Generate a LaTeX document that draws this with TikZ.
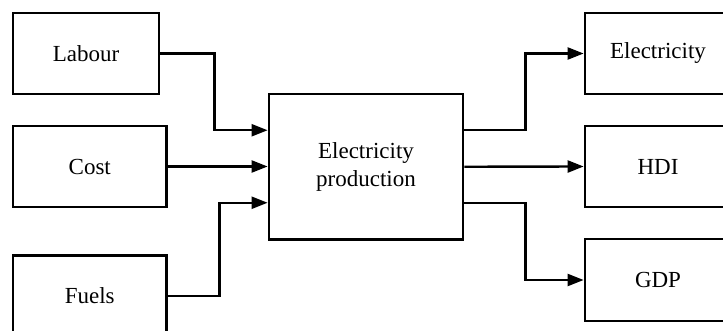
\documentclass[tikz,border=0pt]{standalone}
\usepackage{fontspec}
\setmainfont{Liberation Serif}
\usetikzlibrary{arrows.meta}
\begin{document}
\begin{tikzpicture}[x=1pt,y=-1pt,
  box/.style={draw=black,line width=2.8pt,fill=white,inner sep=0pt,
    font=\fontsize{23}{28.5}\selectfont,align=center},
  arr/.style={draw=black,line width=2.4pt,-{Triangle[length=16pt,width=12pt]}}]
\useasboundingbox (0,0) rectangle (723,331);
\clip (0,0) rectangle (723,331);
\fill[white] (0,0) rectangle (723,331);
\node[box,minimum width=146pt,minimum height=81pt] (lab) at (86,53.5) {Labour};
\node[box,minimum width=153.5pt,minimum height=81pt] (cost) at (89.75,166.5) {Cost};
\node[box,minimum width=153.5pt,minimum height=81pt] (fuel) at (89.75,296) {Fuels};
\node[box,minimum width=194pt,minimum height=145.5pt] (ctr) at (366,166.75) {Electricity\\production};
\node[box,minimum width=146pt,minimum height=81pt] (elec) at (658,53.5) {Electricity};
\node[box,minimum width=146pt,minimum height=81pt] (hdi) at (658,166.5) {HDI};
\node[box,minimum width=146pt,minimum height=82pt] (gdp) at (658,280) {GDP};
\draw[arr] (lab.east) -- ++(54,0) |- ([yshift=36.5pt]ctr.west);
\draw[arr] (cost.east) -- (ctr.west |- cost.east);
\draw[arr] (fuel.east) -- ++(51.5,0) |- ([yshift=-36pt]ctr.west);
\draw[arr] ([yshift=36.5pt]ctr.east) -- ++(61,0) |- (elec.west);
\draw[arr] (ctr.east) -- (hdi.west);
\draw[arr] ([yshift=-36pt]ctr.east) -- ++(61,0) |- (gdp.west);
\end{tikzpicture}
\end{document}
